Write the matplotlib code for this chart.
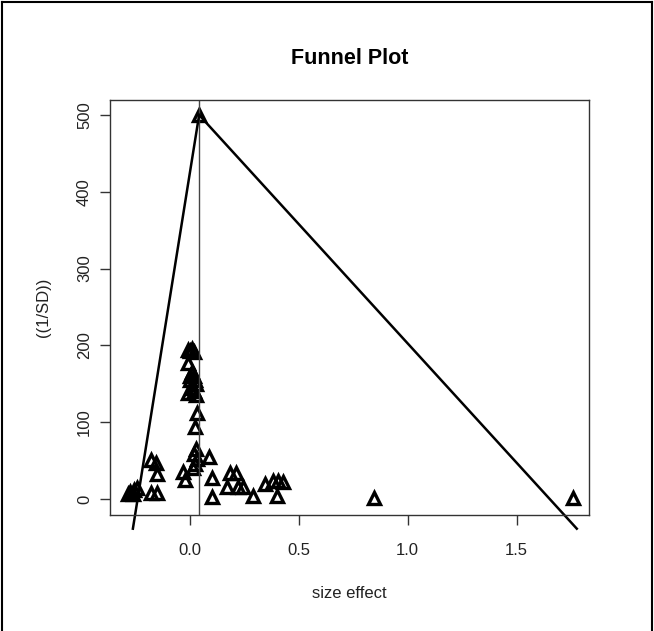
import matplotlib
matplotlib.use("Agg")
import matplotlib.pyplot as plt
from matplotlib.lines import Line2D

plt.rcParams['font.family'] = ['Liberation Sans', 'DejaVu Sans']

# effect sizes and precision (1/SD)
effect = [0.043,
          0.000, 0.010, 0.020, -0.008,
          -0.008,
          0.010, 0.020, 0.000, 0.030, 0.010, 0.020, -0.010, 0.030, 0.000, 0.025,
          0.031, 0.023,
          0.030, 0.020, 0.035, 0.025, 0.015,
          0.089, -0.030, -0.020, 0.100, 0.100,
          -0.179, -0.156, -0.149, -0.179, -0.149,
          -0.276, -0.258, -0.244, -0.285, -0.262,
          0.184, 0.212, 0.169, 0.222, 0.245, 0.291, 0.345,
          0.383, 0.406, 0.429, 0.402, 0.844, 1.757]
precision = [500,
             193, 195, 192, 194,
             177,
             165, 160, 155, 150, 145, 140, 138, 135, 160, 155,
             112, 94,
             65, 58, 52, 46, 40,
             55, 35, 25, 27, 2,
             51, 47, 32, 8, 8,
             9.5, 12, 15, 7, 7,
             34, 34, 16, 16, 16, 4, 20,
             23, 24, 22, 4, 1.3, 1]

mean_effect = 0.043
left_line_x = [0.043, -0.261]
left_line_y = [500, -38.6]
right_line_x = [0.043, 1.776]
right_line_y = [500, -38.6]

fig = plt.figure(figsize=(6.54, 6.31), dpi=100)
ax = fig.add_axes([110/654, 1-515/631, (589-110)/654, (515-100)/631])

ax.plot(effect, precision, linestyle='none', marker='^', markersize=8.5,
        markerfacecolor='none', markeredgecolor='black', markeredgewidth=2.4)
ax.axvline(mean_effect, color='#444444', lw=1)
ax.plot(left_line_x, left_line_y, color='black', lw=1.8, clip_on=False)
ax.plot(right_line_x, right_line_y, color='black', lw=1.8, clip_on=False)

ax.set_xlim(-0.366, 1.832)
ax.set_ylim(-20.8, 519.5)
ax.set_xticks([0.0, 0.5, 1.0, 1.5])
ax.set_xticklabels(['0.0', '0.5', '1.0', '1.5'])
ax.set_yticks([0, 100, 200, 300, 400, 500])
ax.set_yticklabels(['0', '100', '200', '300', '400', '500'], rotation=90, va='center')
for s in ax.spines.values():
    s.set_color('#333333')
    s.set_linewidth(1)
ax.tick_params(length=7, width=1, color='#333333', labelsize=12, labelcolor='#222222')
ax.tick_params(axis='x', pad=13)
ax.tick_params(axis='y', pad=6)

ax.set_title('Funnel Plot', fontsize=15.5, fontweight='bold', pad=26)
ax.set_xlabel('size effect', fontsize=12, color='#222222', labelpad=20)
ax.set_ylabel('((1/SD))', fontsize=12, color='#222222', labelpad=18.5)

# outer frame
for (xs, ys) in [([2/654, 2/654], [0, 1-2/631]), ([2/654, 652/654], [1-2/631, 1-2/631]),
                 ([652/654, 652/654], [0, 1-2/631])]:
    fig.add_artist(Line2D(xs, ys, color='black', lw=1.5))

fig.savefig('out.png', dpi=100)
